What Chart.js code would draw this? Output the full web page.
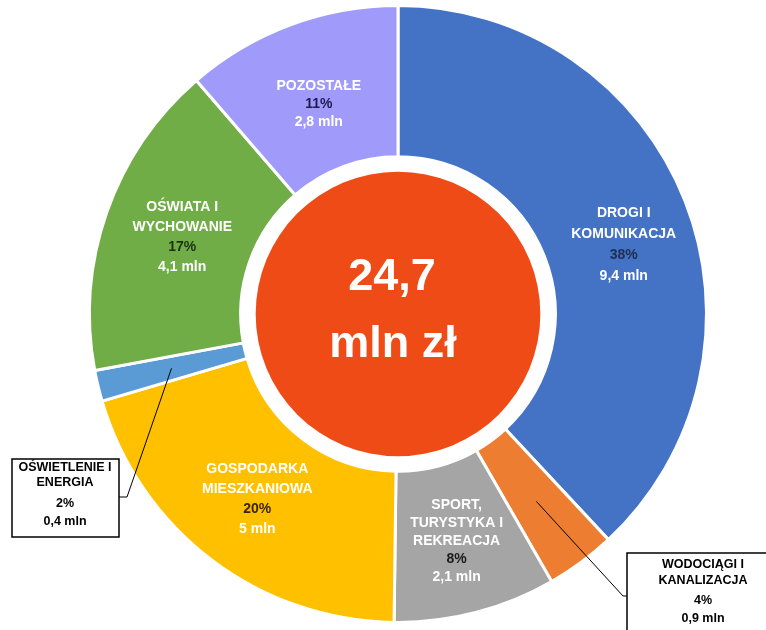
<!DOCTYPE html>
<html>
<head>
<meta charset="utf-8">
<script src="https://cdn.jsdelivr.net/npm/chart.js@4.4.1/dist/chart.umd.min.js"></script>
<style>
  html, body { margin: 0; padding: 0; background: #fff; }
  #wrap { width: 766px; height: 630px; position: relative; }
</style>
</head>
<body>
<div id="wrap"><canvas id="chart"></canvas></div>
<script>
// segments, clockwise from 12 o'clock
const categories = [
  ["DROGI I", "KOMUNIKACJA"],
  ["WODOCIĄGI I", "KANALIZACJA"],
  ["SPORT,", "TURYSTYKA I", "REKREACJA"],
  ["GOSPODARKA", "MIESZKANIOWA"],
  ["OŚWIETLENIE I", "ENERGIA"],
  ["OŚWIATA I", "WYCHOWANIE"],
  ["POZOSTAŁE"]
];
const values = [9.4, 0.9, 2.1, 5, 0.4, 4.1, 2.8];   // mln zł
const percents = [38, 4, 8, 20, 2, 17, 11];
const totalLabel = ["24,7", "mln zł"];

const sliceColors = ["#4472C4", "#ED7D31", "#A5A5A5", "#FFC000", "#5B9BD5", "#70AD47", "#A09BFA"];
const pctColors = ["#1F2E55", "#000000", "#1A1A1A", "#3B2400", "#000000", "#1C3311", "#1E1B4E"];

const fmt = v => String(v).replace(".", ",") + " mln";

//labels drawn inside slices or in callout boxes
const labelPlugin = {
  id: "labels",
  beforeDatasetsDraw(chart) {
    const arc = chart.getDatasetMeta(0).data[0];
    const ctx = chart.ctx;
    ctx.save();
    ctx.beginPath();
    ctx.arc(arc.x, arc.y, arc.innerRadius - 15, 0, Math.PI * 2);
    ctx.fillStyle = "#EF4B16";
    ctx.fill();
    ctx.restore();
  },
  afterDatasetsDraw(chart, args, opts) {
    const ctx = chart.ctx;
    const arcs = chart.getDatasetMeta(0).data;
    const cx = arcs[0].x, cy = arcs[0].y;
    ctx.save();
    ctx.textAlign = "center";
    ctx.textBaseline = "middle";

    arcs.forEach((a, i) => {
      const mid = (a.startAngle + a.endAngle) / 2;
      const r = (a.innerRadius + a.outerRadius) / 2;
      const px = a.x + r * Math.cos(mid);
      const py = a.y + r * Math.sin(mid);
      const lines = categories[i].concat([percents[i] + "%", fmt(values[i])]);
      const box = opts.callouts[i];
      if (box) {
        // leader line
        ctx.strokeStyle = "#000";
        ctx.lineWidth = 1;
        ctx.beginPath();
        ctx.moveTo(px, py);
        ctx.lineTo(box.elbow[0], box.elbow[1]);
        ctx.lineTo(box.side, box.elbow[1]);
        ctx.stroke();
        ctx.lineWidth = 1.5;
        ctx.strokeRect(box.x, box.y, box.w, box.h);
        ctx.fillStyle = "#000";
        ctx.font = "bold 12.5px 'Liberation Sans', Arial, sans-serif";
        lines.forEach((t, k) => ctx.fillText(t, box.tx, box.ty[k]));
        return;
      }
      const off = opts.offsets[i] || [0, 0];
      const lh = opts.lineHeights[i] || 20;
      const top = py + off[1] - (lines.length - 1) * lh / 2;
      ctx.font = "bold 14px 'Liberation Sans', Arial, sans-serif";
      lines.forEach((t, k) => {
        ctx.fillStyle = (k === lines.length - 2) ? pctColors[i] : "#FFFFFF";
        ctx.fillText(t, px + off[0], top + k * lh);
      });
    });

    // total in the middle
    ctx.fillStyle = "#FFFFFF";
    ctx.textBaseline = "alphabetic";
    ctx.font = "bold 45px 'Liberation Sans', Arial, sans-serif";
    ctx.fillText(totalLabel[0], cx - 6, cy - 24);
    ctx.fillText(totalLabel[1], cx - 5, cy + 43);
    ctx.restore();
  }
};

new Chart(document.getElementById("chart"), {
  type: "doughnut",
  plugins: [labelPlugin],
  data: {
    labels: categories.map(c => c.join(" ")),
    datasets: [{
      data: values,
      backgroundColor: sliceColors,
      borderColor: "#FFFFFF",
      borderWidth: 3
    }]
  },
  options: {
    responsive: true,
    maintainAspectRatio: false,
    animation: false,
    events: [],
    cutout: "51%",
    layout: { padding: { top: 4, bottom: 6, left: 30, right: 0 } },
    plugins: {
      legend: { display: false },
      tooltip: { enabled: false },
      labels: {
        offsets: { 0: [9, 16], 6: [2, 8], 5: [4, 0], 2: [0, 2] },
        lineHeights: { 0: 21, 2: 18, 6: 18 },
        callouts: {
          1: { x: 627, y: 553, w: 150, h: 90, side: 627, elbow: [623, 596], tx: 703, ty: [565, 581, 601, 619] },
          4: { x: 12, y: 459, w: 107, h: 78, side: 119, elbow: [127, 497], tx: 65, ty: [468, 483, 504, 522] }
        }
      }
    }
  }
});
</script>
</body>
</html>
